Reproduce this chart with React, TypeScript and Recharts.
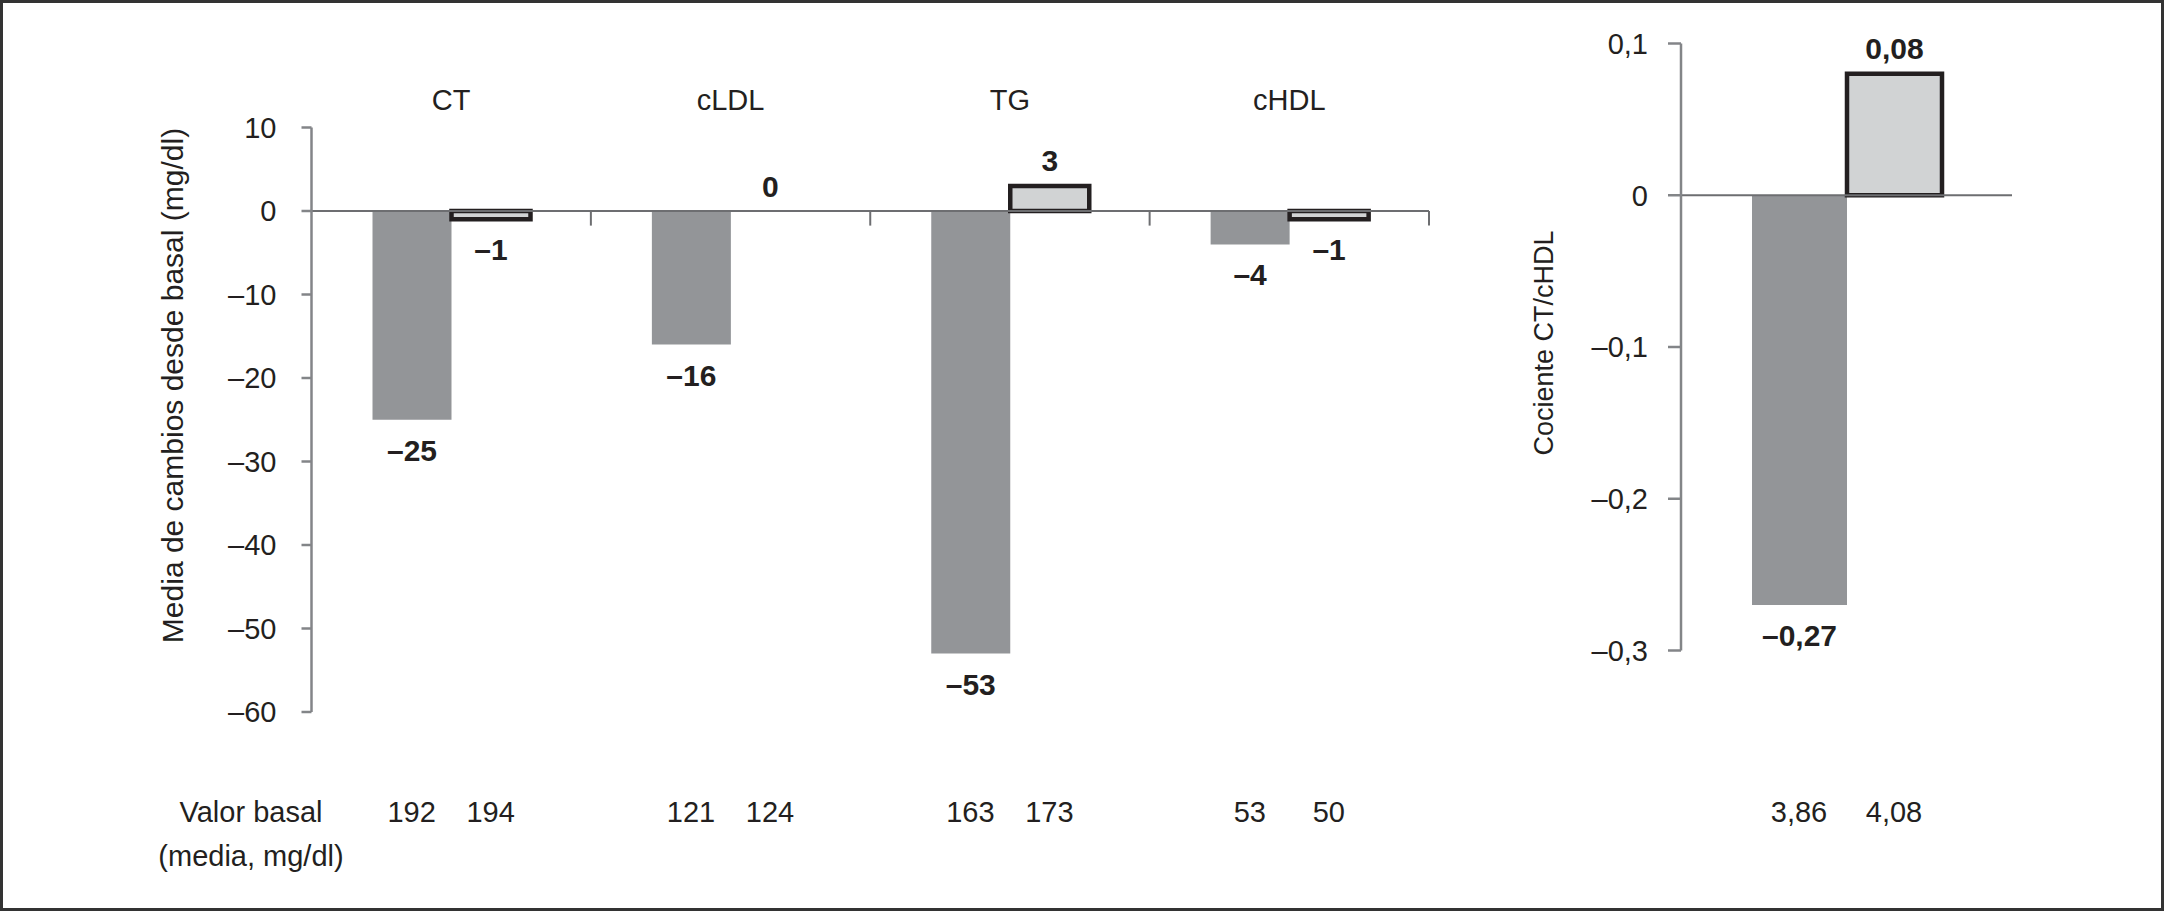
import React from 'react';
import { BarChart, Bar, XAxis, YAxis, ReferenceLine, LabelList, Rectangle } from 'recharts';

// ---------- data ----------
const categories = ['CT', 'cLDL', 'TG', 'cHDL'];
const changeA = [-25, -16, -53, -4];
const changeB = [-1, 0, 3, -1];
const basalA = ['192', '121', '163', '53'];
const basalB = ['194', '124', '173', '50'];
const mainTicks = [10, 0, -10, -20, -30, -40, -50, -60];
const dividers = [1, 2, 3, 4];

const ratioCategories = ['CT/cHDL'];
const ratioA = [-0.27];
const ratioB = [0.08];
const ratioBasalA = ['3,86'];
const ratioBasalB = ['4,08'];
const ratioTicks = [0.1, 0, -0.1, -0.2, -0.3];

const mainData = categories.map((c, i) => ({ pos: i + 0.5, name: c, a: changeA[i], b: changeB[i] }));
const catTicks = categories.map((_, i) => i + 0.5);
const ratioData = ratioCategories.map((c, i) => ({ name: c, a: ratioA[i], b: ratioB[i] }));

// ---------- style ----------
const FONT = "'Liberation Sans', Arial, Helvetica, sans-serif";
const TEXT = '#231f20';
const AXIS = '#838588';
const ZERO = '#6d6e71';
const DARK = '#939598';
const LIGHT = '#d1d3d4';

const fmt = (v: number, d = 0) => {
  if (v === 0) return '0';
  const s = Math.abs(v).toFixed(d).replace('.', ',');
  return v < 0 ? '\u2013' + s : s;
};

const makeYTick = (d: number) => (props: any) => {
  const { x, y, payload } = props;
  return (
    <text x={x} y={y} dy="0.355em" textAnchor="end" fontFamily={FONT} fontSize={29} fill={TEXT}>
      {fmt(payload.value, d)}
    </text>
  );
};

const makeTopTick = (names: string[]) => (props: any) => {
  const { x, y, index } = props;
  return (
    <text x={x} y={y - 17.5} textAnchor="middle" fontFamily={FONT} fontSize={29} fill={TEXT}>
      {names[index]}
    </text>
  );
};

const makeBasalTick = (left: string[], right: string[], half: number, dy: number) => (props: any) => {
  const { x, y, index } = props;
  return (
    <g>
      <text x={x - half} y={y + dy} textAnchor="middle" fontFamily={FONT} fontSize={29} fill={TEXT}>
        {left[index]}
      </text>
      <text x={x + half} y={y + dy} textAnchor="middle" fontFamily={FONT} fontSize={29} fill={TEXT}>
        {right[index]}
      </text>
    </g>
  );
};

const makeValueLabel = (d: number) => (props: any) => {
  const vb = props.viewBox && props.viewBox.width !== undefined ? props.viewBox : props;
  const x = Number(vb.x);
  const y = Number(vb.y);
  const width = Number(vb.width);
  const height = Number(vb.height) || 0;
  const v = Number(props.value);
  const cx = x + width / 2;
  const top = Math.min(y, y + height);
  const bottom = Math.max(y, y + height);
  const ty = v < 0 ? bottom + 41 : Math.abs(height) < 1 ? y + height - 14 : top - 15;
  return (
    <text x={cx} y={ty} textAnchor="middle" fontFamily={FONT} fontSize={30} fontWeight={700} fill={TEXT}>
      {fmt(v, d)}
    </text>
  );
};

// bars of zero value keep their (invisible) slot so their value label is still drawn
const zeroSlot = (value: any) => (Number(value) === 0 ? 0.5 : 0);
const outlinedShape = (props: any) =>
  Math.abs(Number(props.height)) < 1 ? <g /> : <Rectangle {...props} />;

const AxisTitle = (props: any) => {
  const { cx, cy, title, size } = props;
  return (
    <text
      x={cx}
      y={cy}
      textAnchor="middle"
      transform={`rotate(-90, ${cx}, ${cy})`}
      fontFamily={FONT}
      fontSize={size}
      fill={TEXT}
    >
      {title}
    </text>
  );
};

const BasalTitle = () => (
  <g>
    <text x={251} y={822} textAnchor="middle" fontFamily={FONT} fontSize={29} fill={TEXT}>
      Valor basal
    </text>
    <text x={251} y={866} textAnchor="middle" fontFamily={FONT} fontSize={29} fill={TEXT}>
      (media, mg/dl)
    </text>
  </g>
);

export default function App() {
  return (
    <div
      style={{
        position: 'absolute',
        left: 0,
        top: 0,
        width: 2164,
        height: 911,
        background: '#ffffff',
        overflow: 'hidden',
      }}
    >
      <div style={{ position: 'absolute', left: 0, top: 0 }}>
        <BarChart
          width={1450}
          height={911}
          data={mainData}
          margin={{ top: 0, right: 21, bottom: 0, left: 0 }}
          barGap={0}
          barSize={79}
        >
          <XAxis
            xAxisId="top"
            orientation="top"
            dataKey="pos"
            type="number"
            domain={[0, 4]}
            ticks={catTicks}
            interval={0}
            height={127.5}
            axisLine={false}
            tickLine={false}
            tickSize={0}
            tickMargin={0}
            tick={makeTopTick(categories)}
          />
          <XAxis
            xAxisId="bottom"
            dataKey="pos"
            type="number"
            domain={[0, 4]}
            ticks={catTicks}
            interval={0}
            height={199}
            axisLine={false}
            tickLine={false}
            tickSize={0}
            tickMargin={0}
            tick={makeBasalTick(basalA, basalB, 39.5, 110)}
            label={<BasalTitle />}
          />
          <YAxis
            domain={[-60, 10]}
            ticks={mainTicks}
            interval={0}
            width={311.5}
            tickSize={10}
            tickMargin={25}
            axisLine={{ stroke: AXIS, strokeWidth: 2.5 }}
            tickLine={{ stroke: AXIS, strokeWidth: 2.5 }}
            tick={makeYTick(0)}
            label={<AxisTitle cx={183} cy={385.5} size={30} title="Media de cambios desde basal (mg/dl)" />}
          />
          <ReferenceLine xAxisId="bottom" y={0} stroke={ZERO} strokeWidth={2} />
          {dividers.map((d) => (
            <ReferenceLine
              key={d}
              xAxisId="bottom"
              segment={[
                { x: d, y: 0 },
                { x: d, y: -1.75 },
              ]}
              stroke={ZERO}
              strokeWidth={2}
              ifOverflow="visible"
            />
          ))}
          <Bar xAxisId="bottom" dataKey="a" fill={DARK} isAnimationActive={false}>
            <LabelList dataKey="a" content={makeValueLabel(0)} />
          </Bar>
          <Bar
            xAxisId="bottom"
            dataKey="b"
            fill={LIGHT}
            stroke={TEXT}
            strokeWidth={4.5}
            minPointSize={zeroSlot}
            shape={outlinedShape}
            isAnimationActive={false}
          >
            <LabelList dataKey="b" content={makeValueLabel(0)} />
          </Bar>
        </BarChart>
      </div>

      <div style={{ position: 'absolute', left: 1450, top: 0 }}>
        <BarChart
          width={714}
          height={911}
          data={ratioData}
          margin={{ top: 43.5, right: 152, bottom: 0, left: 0 }}
          barGap={0}
          barSize={95}
        >
          <XAxis
            dataKey="name"
            height={260.5}
            axisLine={false}
            tickLine={false}
            tickSize={0}
            tickMargin={0}
            interval={0}
            tick={makeBasalTick(ratioBasalA, ratioBasalB, 47.5, 171.5)}
          />
          <YAxis
            domain={[-0.3, 0.1]}
            ticks={ratioTicks}
            interval={0}
            width={231}
            tickSize={13}
            tickMargin={20}
            axisLine={{ stroke: AXIS, strokeWidth: 2.5 }}
            tickLine={{ stroke: AXIS, strokeWidth: 2.5 }}
            tick={makeYTick(1)}
            label={<AxisTitle cx={103} cy={343} size={27} title="Cociente CT/cHDL" />}
          />
          <ReferenceLine y={0} stroke={ZERO} strokeWidth={2} />
          <Bar dataKey="a" fill={DARK} isAnimationActive={false}>
            <LabelList dataKey="a" content={makeValueLabel(2)} />
          </Bar>
          <Bar dataKey="b" fill={LIGHT} stroke={TEXT} strokeWidth={4.5} isAnimationActive={false}>
            <LabelList dataKey="b" content={makeValueLabel(2)} />
          </Bar>
        </BarChart>
      </div>

      <div
        style={{
          position: 'absolute',
          left: 0,
          top: 0,
          width: 2164,
          height: 911,
          boxSizing: 'border-box',
          border: '3px solid #333333',
          pointerEvents: 'none',
        }}
      />
    </div>
  );
}
